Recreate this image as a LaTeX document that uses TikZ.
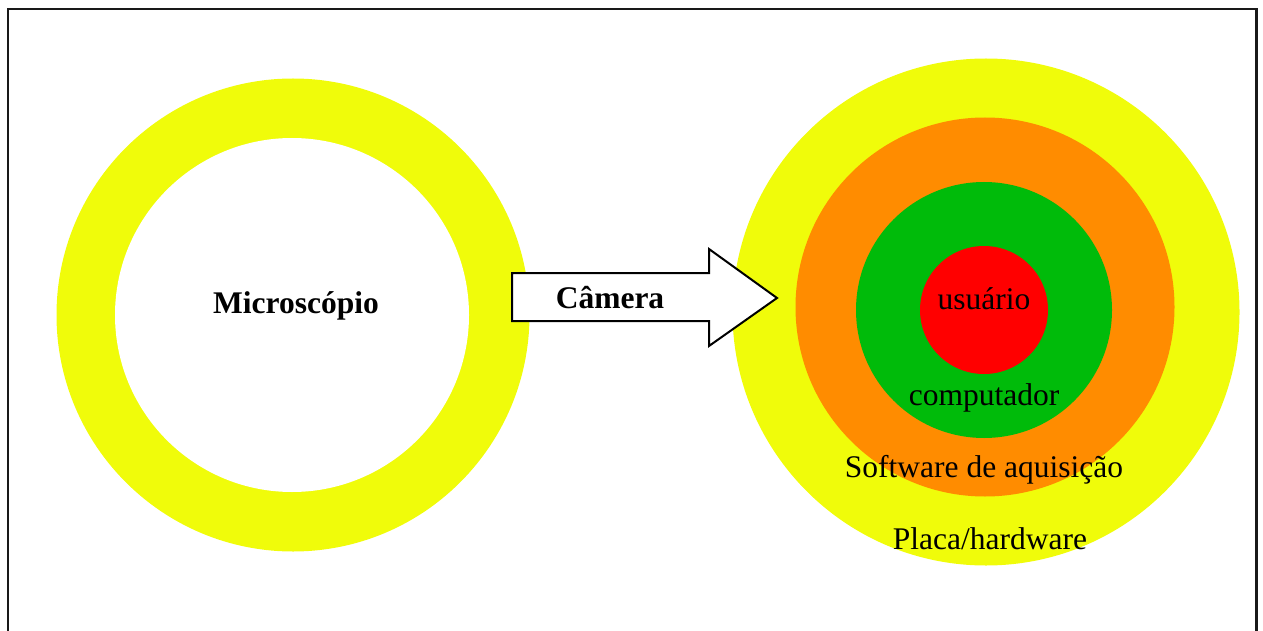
\documentclass[tikz,border=0pt]{standalone}
\usepackage{fontspec}
\setmainfont{Liberation Serif}
\definecolor{ringyellow}{RGB}{240,252,10}
\definecolor{ringorange}{RGB}{255,140,0}
\definecolor{ringgreen}{RGB}{0,187,10}
\definecolor{ringred}{RGB}{255,0,0}
\tikzset{
  disc/.style={circle, inner sep=0pt, draw=none, minimum size=#1},
  lbl/.style={anchor=base, inner sep=0pt, font=\fontsize{31.5}{36}\selectfont},
  boldlbl/.style={lbl, font=\fontsize{31.5}{36}\selectfont\bfseries},
  frame/.style={line width=2.2pt, draw=black!90},
  arrowshape/.style={line width=2pt, draw=black, fill=white, line join=miter}
}
\begin{document}
\begin{tikzpicture}[x=1pt,y=-1pt]
\useasboundingbox (0,0) rectangle (1263,631);
\clip (0,0) rectangle (1263,631);
\draw[frame] (8,660) -- (8,9) -- (1256.5,9) -- (1256.5,660);
% left: microscope ring
\node[disc=473pt, fill=ringyellow] (micOuter) at (293,315) {};
\node[disc=354pt, fill=white] (micInner) at (292,315) {};
\node[boldlbl] (mic) at (296,313) {Microscópio};
% right: nested rings
\node[disc=507pt, fill=ringyellow] (placa) at (986,312) {};
\node[disc=379pt, fill=ringorange] (soft) at (985,307) {};
\node[disc=256pt, fill=ringgreen] (comp) at (984,310) {};
\node[disc=128pt, fill=ringred] (user) at (984,310) {};
\node[lbl] (userT) at (984,309) {usuário};
\node[lbl] (compT) at (984,405) {computador};
\node[lbl] (softT) at (984,477) {Software de aquisição};
\node[lbl] (placaT) at (990,549) {Placa/hardware};
% arrow
\draw[arrowshape] (512,273) -- (709,273) -- (709,249) -- (777,298) -- (709,346) -- (709,321) -- (512,321) -- cycle;
\node[boldlbl] (cam) at (610,308) {Câmera};
\end{tikzpicture}
\end{document}
